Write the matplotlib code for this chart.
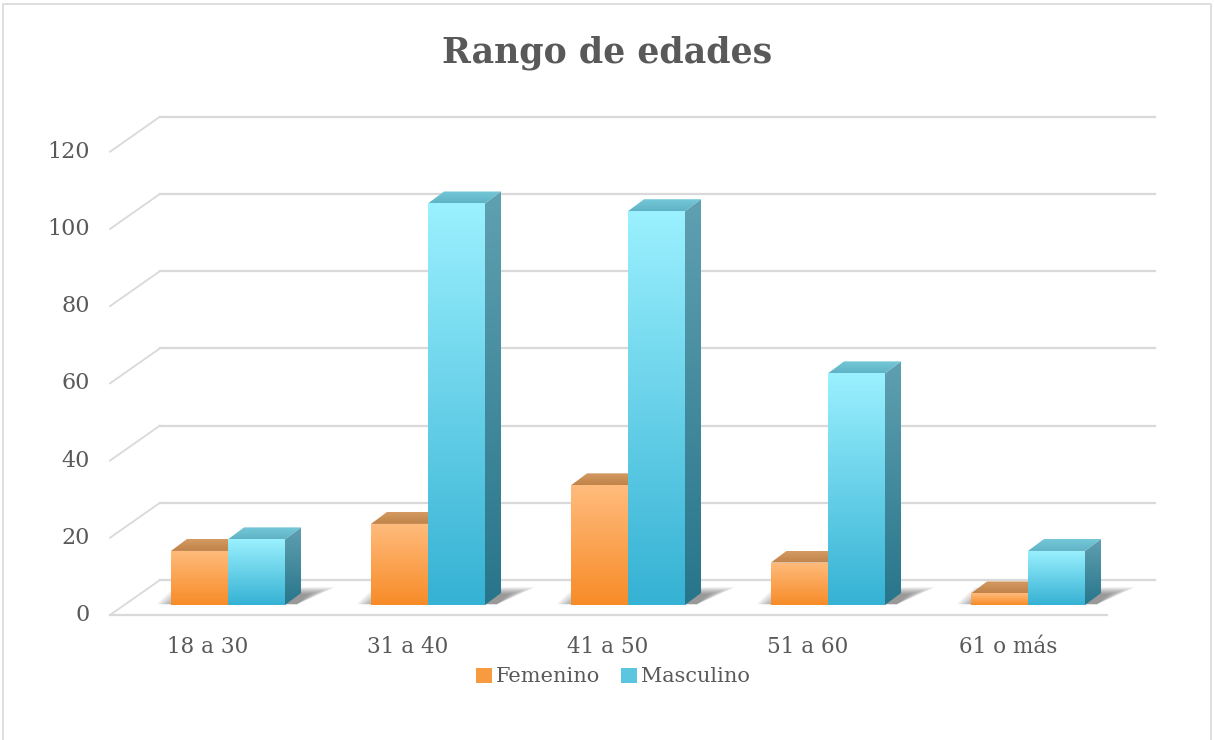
import numpy as np
import matplotlib.pyplot as plt
from matplotlib.patches import Polygon, Patch
from matplotlib.colors import LinearSegmentedColormap

categories = ['18 a 30', '31 a 40', '41 a 50', '51 a 60', '61 o más']
femenino = [14, 21, 31, 11, 3]
masculino = [17, 104, 102, 60, 14]
y_ticks = [0, 20, 40, 60, 80, 100, 120]

TEXT = '#595959'
GRID = '#d9d9d9'
plt.rcParams['font.family'] = ['DejaVu Serif']

# 3d look: front face in data units, depth offset
BAR_W = 0.285
DX, DV = 0.08, 3.1
FLOOR_FRONT = -2.6
FLOOR_BACK = 6.48


def face(ax, verts, c_top, c_bot, z):
    poly = Polygon(verts, closed=True, facecolor='none', edgecolor='none', zorder=z)
    ax.add_patch(poly)
    xs = [p[0] for p in verts]
    ys = [p[1] for p in verts]
    cmap = LinearSegmentedColormap.from_list('g', [c_bot, c_top])
    grad = np.linspace(0, 1, 64).reshape(-1, 1)
    im = ax.imshow(grad, cmap=cmap, origin='lower', aspect='auto',
                   extent=[min(xs), max(xs), min(ys), max(ys)], zorder=z,
                   interpolation='bilinear')
    im.set_clip_path(poly)


def bar3d(ax, x0, h, front, side, top, z):
    x1 = x0 + BAR_W
    face(ax, [(x0, 0), (x1, 0), (x1, h), (x0, h)], front[0], front[1], z)
    face(ax, [(x1, 0), (x1 + DX, DV), (x1 + DX, h + DV), (x1, h)], side[0], side[1], z)
    face(ax, [(x0, h), (x1, h), (x1 + DX, h + DV), (x0 + DX, h + DV)], top[0], top[1], z)


fig = plt.figure(figsize=(12.14, 7.40), dpi=100)
ax = fig.add_axes([0, 0, 1, 1])
ax.axis('off')

# walls and floor
for k, v in enumerate(y_ticks):
    ax.plot([-0.24, 4.735], [FLOOR_BACK + v, FLOOR_BACK + v], color=GRID, lw=1.6, zorder=1)
    ax.plot([-0.49, -0.24], [FLOOR_FRONT + v, FLOOR_BACK + v], color=GRID, lw=1.3, zorder=1)
    ax.text(-0.59, FLOOR_FRONT + v, str(v), ha='right', va='center',
            fontsize=16, color=TEXT)
ax.plot([-0.49, 4.495], [FLOOR_FRONT, FLOOR_FRONT], color=GRID, lw=1.6, zorder=1)

for i, cat in enumerate(categories):
    xf = i + 0.1 - BAR_W
    xm = i + 0.1
    # soft shadow on the floor, darker near the bars
    for s in range(8):
        g = 0.012 * s
        sh = Polygon([(xf - 0.07 + g, 0.2), (xm + BAR_W + DX - 0.02, 0.2),
                      (xm + BAR_W + DX + 0.17 - 1.5 * g, 4.6 - 0.25 * s),
                      (xf + 0.02 + g, 4.6 - 0.25 * s)],
                     closed=True, facecolor='#303030', edgecolor='none',
                     alpha=0.08, zorder=2)
        ax.add_patch(sh)
    bar3d(ax, xf, femenino[i], ('#ffbb7c', '#f78c28'), ('#d08a48', '#b06a28'),
          ('#d49a62', '#c0834a'), 3)
    bar3d(ax, xm, masculino[i], ('#9af0fe', '#36b2d4'), ('#5fa0b1', '#28758b'),
          ('#74c8d8', '#5fb3c5'), 4)
    ax.text(i, -10.9, cat, ha='center', va='center', fontsize=15.5, color=TEXT)

ax.set_xlim(-1.04, 5.03)
ax.set_ylim(-34.97, 156.7)

fig.text(0.5, 1 - 53 / 740, 'Rango de edades', ha='center', va='center',
         fontsize=25, fontweight='bold', color=TEXT)

handles = [Patch(facecolor='#f89a40', label='Femenino'),
           Patch(facecolor='#5cc6e0', label='Masculino')]
fig.legend(handles=handles, loc='center', bbox_to_anchor=(0.505, 1 - 677 / 740),
           ncol=2, frameon=False, fontsize=15, handlelength=0.75, handleheight=0.75,
           handletextpad=0.2, columnspacing=1.0, labelcolor=TEXT)

# chart border
fig.add_artist(plt.Line2D([3 / 1214, 3 / 1214, 1211 / 1214, 1211 / 1214],
                          [0, 1 - 4 / 740, 1 - 4 / 740, 0],
                          color='#d9d9d9', lw=1.2))

fig.savefig('out.png', dpi=100)
